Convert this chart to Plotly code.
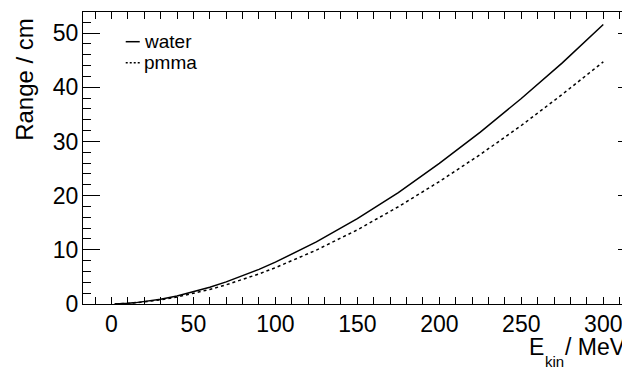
import plotly.graph_objects as go

# ---- data ----
energy_mev = [2, 3, 5, 10, 15, 20, 25, 30, 40, 50, 60, 70, 80, 90, 100,
              125, 150, 175, 200, 225, 250, 275, 300]
range_water_cm = [0.008, 0.015, 0.036, 0.123, 0.254, 0.426, 0.637, 0.885, 1.489,
                  2.227, 3.093, 4.080, 5.184, 6.398, 7.718, 11.46, 15.77, 20.57,
                  25.96, 31.72, 37.94, 44.5, 51.6]
range_pmma_cm = [0.007, 0.013, 0.031, 0.107, 0.221, 0.370, 0.553, 0.769, 1.293,
                 1.934, 2.686, 3.543, 4.502, 5.556, 6.703, 9.95, 13.69, 17.95,
                 22.6, 27.6, 32.95, 38.7, 44.7]
series_names = ["water", "pmma"]

FONT = "Liberation Sans"
OFF = 8  # page body margin of the browser
W, H = 630 - OFF, 367 - OFF
# plot area edges in screenshot pixels
L_s, T_s, B_s, R_s = 83.3, 12.3, 304.3, 630.0
L, T, B, R = L_s - OFF, T_s - OFF, B_s - OFF, R_s - OFF
PW, PH = R - L, B - T


def px(xs):
    """screenshot x pixel -> paper coord"""
    return (xs - L_s) / PW


def py(ys):
    """screenshot y pixel -> paper coord"""
    return (B_s - ys) / PH


fig = go.Figure()
fig.add_trace(go.Scatter(x=energy_mev, y=range_water_cm, mode="lines",
                         name=series_names[0], showlegend=False,
                         line=dict(color="black", width=1.5)))
fig.add_trace(go.Scatter(x=energy_mev, y=range_pmma_cm, mode="lines",
                         name=series_names[1], showlegend=False,
                         line=dict(color="black", width=1.5, dash="3px,3px")))
# invisible trace to carry right-hand ticks
fig.add_trace(go.Scatter(x=[None], y=[None], yaxis="y2", showlegend=False,
                         hoverinfo="skip"))

ppu = (603.3 - 111.7) / 300.0
xmin = (L_s - 111.7) / ppu
xr = [xmin, xmin + PW / ppu]
yr = [0, 53.9]

fig.update_layout(
    width=W, height=H,
    margin=dict(l=L, r=W - R, t=T, b=H - B, pad=0),
    paper_bgcolor="white", plot_bgcolor="white",
    font=dict(family=FONT, color="black", size=23),
    xaxis=dict(range=xr, showgrid=False, zeroline=False,
               showline=True, linecolor="black", linewidth=1.3, mirror="allticks",
               ticks="inside", ticklen=7, tickwidth=1.3, tickcolor="black",
               dtick=50, tick0=0, ticklabelstandoff=-1,
               minor=dict(ticks="inside", ticklen=3.5, dtick=10, tick0=0,
                          tickcolor="black", tickwidth=1.3, showgrid=False),
               tickfont=dict(size=23, family=FONT)),
    yaxis=dict(range=yr, showgrid=False, zeroline=False,
               showline=True, linecolor="black", linewidth=1.3, mirror=False,
               ticks="inside", ticklen=17, tickwidth=1.3, tickcolor="black",
               dtick=10, tick0=0, ticklabelstandoff=-1,
               minor=dict(ticks="inside", ticklen=8, dtick=2, tick0=0,
                          tickcolor="black", tickwidth=1.3, showgrid=False),
               tickfont=dict(size=23, family=FONT)),
    yaxis2=dict(range=yr, overlaying="y", side="right", anchor="x",
                showgrid=False, zeroline=False, showline=False,
                showticklabels=False,
                ticks="inside", ticklen=12, tickwidth=1.3, tickcolor="black",
                dtick=10, tick0=0,
                minor=dict(ticks="inside", ticklen=3.5, dtick=2, tick0=0,
                           tickcolor="black", tickwidth=1.3, showgrid=False)),
)

# axis titles (ROOT style: right-aligned)
ann = []
ann.append(dict(text="Range / cm", textangle=-90, xref="paper", yref="paper",
                x=px(25), y=py(16), xanchor="center", yanchor="top",
                showarrow=False, font=dict(size=24, family=FONT)))
ann.append(dict(text="E", xref="paper", yref="paper", x=px(527), y=py(347),
                xanchor="left", yanchor="middle", showarrow=False,
                font=dict(size=23, family=FONT)))
ann.append(dict(text="kin", xref="paper", yref="paper", x=px(543), y=py(362),
                xanchor="left", yanchor="middle", showarrow=False,
                font=dict(size=15, family=FONT)))
ann.append(dict(text="/ MeV", xref="paper", yref="paper", x=px(628), y=py(347),
                xanchor="right", yanchor="middle", showarrow=False,
                font=dict(size=23, family=FONT)))

# legend (drawn manually, ROOT style short samples)
legend_rows = [(series_names[0], 42, "solid"), (series_names[1], 63, "dot")]
shapes = []
for name, ys, dash in legend_rows:
    shapes.append(dict(type="line", xref="paper", yref="paper",
                       x0=px(126), x1=px(140), y0=py(ys), y1=py(ys),
                       line=dict(color="black", width=1.5,
                                 dash="solid" if dash == "solid" else "2px,2px")))
    ann.append(dict(text=name, xref="paper", yref="paper", x=px(142), y=py(ys),
                    xanchor="left", yanchor="middle", showarrow=False,
                    font=dict(size=19, family=FONT)))

fig.update_layout(annotations=ann, shapes=shapes)
fig.write_html("out.html")
